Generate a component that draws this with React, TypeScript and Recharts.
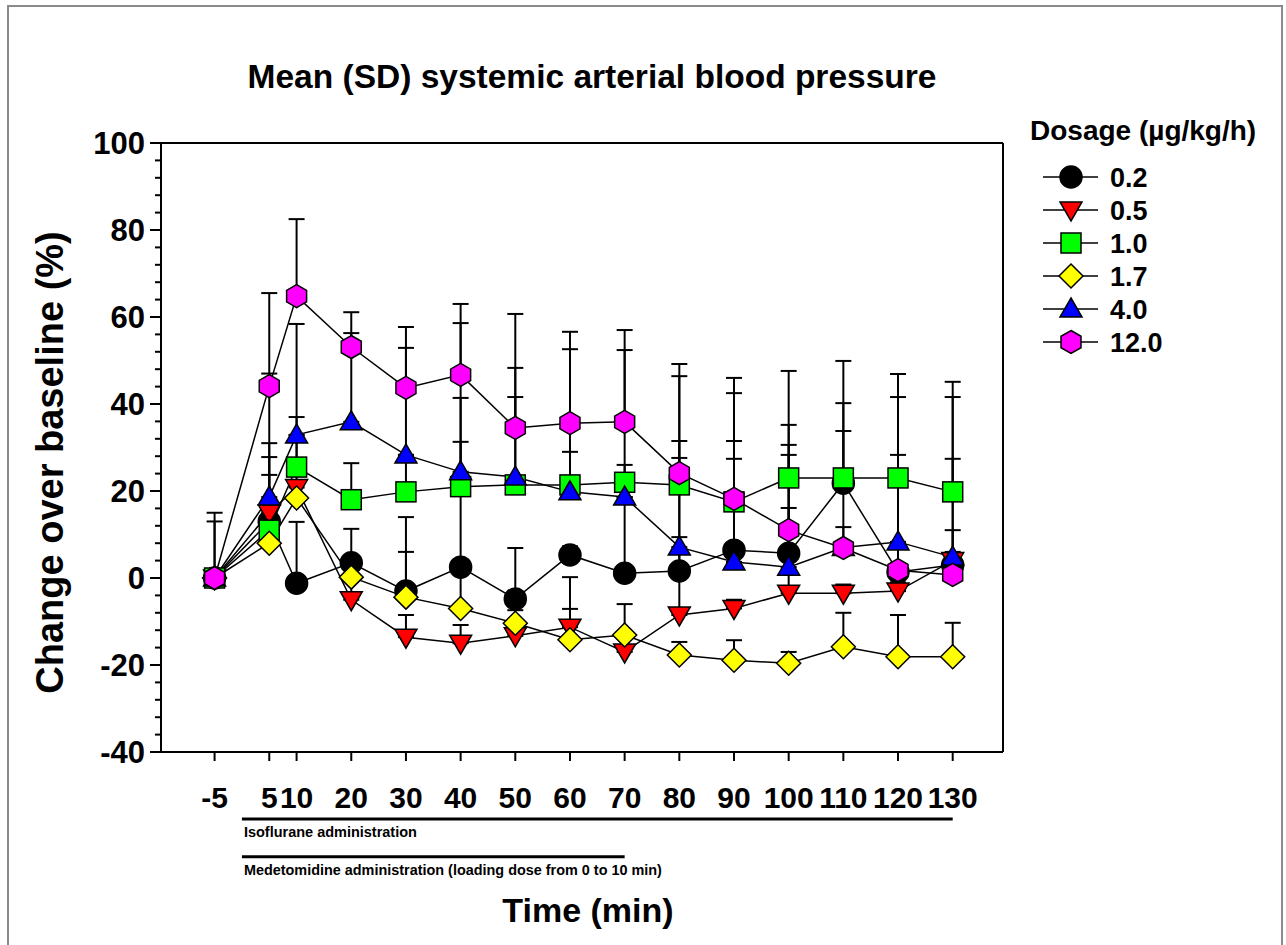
import React from 'react';
import { LineChart, Line, XAxis, YAxis, ErrorBar, ReferenceLine } from 'recharts';

// sampling times (min)
const TIME = [-5, 5, 10, 20, 30, 40, 50, 60, 70, 80, 90, 100, 110, 120, 130];

// y ticks every 4 %, labelled every 20 %
const Y_TICKS = [
  -40, -36, -32, -28, -24, -20, -16, -12, -8, -4, 0, 4, 8, 12, 16, 20, 24, 28, 32, 36, 40,
  44, 48, 52, 56, 60, 64, 68, 72, 76, 80, 84, 88, 92, 96, 100,
];

// mean change over baseline (%) and SD per dosage
const MEAN_02 = [0, 13, -1.2, 3.5, -3, 2.5, -4.8, 5.3, 1.1, 1.6, 6.4, 5.7, 21.8, 1.4, 3];
const SD_02 = [15, 18, 14.1, 7.8, 9, 28.8, 11.7, 2, 17.5, 29.9, 36.1, 29.5, 18.4, 2, 8];

const MEAN_05 = [0, 15, 20.8, -5, -13.6, -15, -13.3, -11.3, -17, -8.5, -7, -3.5, -3.5, -3, 4];
const SD_05 = [0, 12.8, 12, 5, 5.1, 4.2, 3, 4.2, 4, 17.9, 2, 19.6, 2, 2, 2];

const MEAN_10 = [0, 11, 25.5, 18, 19.8, 21, 21.4, 21.4, 22, 21.4, 17.5, 23, 23, 23, 19.8];
const SD_10 = [0, 12.7, 11.5, 8.4, 8.5, 20.4, 20.2, 7.6, 4, 6.2, 14, 24.6, 26.9, 23.9, 25.3];

const MEAN_17 = [0, 8, 18.4, 0.2, -4.4, -7, -10.4, -14.2, -13.1, -17.7, -18.9, -19.6, -15.8, -18.1, -18.1];
const SD_17 = [0, 3, 3, 3, 18.4, 9, 3, 14.4, 7.1, 3, 4.6, 2.6, 7.8, 9.6, 7.8];

const MEAN_40 = [0, 18.6, 32.9, 35.9, 28.3, 24.4, 23.2, 19.8, 18.6, 7.1, 3.7, 2.5, 7, 8.3, 4.8];
const SD_40 = [0, 28.4, 25.5, 20.4, 24.6, 34.2, 25.1, 32.8, 33.8, 39.3, 23.7, 25.8, 4.7, 20, 22.6];

const MEAN_120 = [0, 44.1, 64.8, 53.1, 43.7, 46.7, 34.5, 35.6, 35.9, 24.1, 18.2, 11, 6.9, 1.8, 0.7];
const SD_120 = [13, 21.4, 17.7, 8, 14, 16.3, 26.2, 21, 21.1, 25.1, 27.8, 19.6, 26.9, 39.8, 40.9];

const SERIES = [
  { key: 'd02', name: '0.2', shape: 'circle', fill: '#000000', mean: MEAN_02, sd: SD_02 },
  { key: 'd05', name: '0.5', shape: 'triangleDown', fill: '#ff0000', mean: MEAN_05, sd: SD_05 },
  { key: 'd10', name: '1.0', shape: 'square', fill: '#00ff00', mean: MEAN_10, sd: SD_10 },
  { key: 'd17', name: '1.7', shape: 'diamond', fill: '#ffff00', mean: MEAN_17, sd: SD_17 },
  { key: 'd40', name: '4.0', shape: 'triangleUp', fill: '#0000ff', mean: MEAN_40, sd: SD_40 },
  { key: 'd120', name: '12.0', shape: 'hexagon', fill: '#ff00ff', mean: MEAN_120, sd: SD_120 },
];

// administration periods drawn under the x axis (min)
const PERIODS = [
  { label: 'Isoflurane administration', from: 0, to: 130, level: -55.4, textWidth: 173 },
  { label: 'Medetomidine administration (loading dose from 0 to 10 min)', from: 0, to: 70, level: -64.1, textWidth: 418 },
];

const FONT = "'Liberation Sans', Arial, Helvetica, sans-serif";

const data = TIME.map((t, i) => {
  const row: Record<string, any> = { t };
  SERIES.forEach((s) => {
    row[s.key] = s.mean[i];
    row[s.key + 'Err'] = [0, s.sd[i]];
  });
  return row;
});

function Marker({ shape, cx, cy, fill }: { shape: string; cx: number; cy: number; fill: string }) {
  const st = { fill, stroke: '#000', strokeWidth: 1.5 };
  switch (shape) {
    case 'circle':
      return <circle cx={cx} cy={cy} r={11} {...st} />;
    case 'triangleDown':
      return <polygon points={`${cx - 11},${cy - 8} ${cx + 11},${cy - 8} ${cx},${cy + 11}`} {...st} />;
    case 'square':
      return <rect x={cx - 10} y={cy - 10} width={20} height={20} {...st} />;
    case 'diamond':
      return <polygon points={`${cx},${cy - 12} ${cx + 12},${cy} ${cx},${cy + 12} ${cx - 12},${cy}`} {...st} />;
    case 'triangleUp':
      return <polygon points={`${cx},${cy - 11} ${cx + 11},${cy + 8} ${cx - 11},${cy + 8}`} {...st} />;
    default:
      return (
        <polygon
          points={`${cx},${cy - 11.5} ${cx + 10},${cy - 5.75} ${cx + 10},${cy + 5.75} ${cx},${cy + 11.5} ${cx - 10},${cy + 5.75} ${cx - 10},${cy - 5.75}`}
          {...st}
        />
      );
  }
}

function YTick(props: any) {
  const { x, y, payload } = props;
  const v = payload.value;
  const major = v % 20 === 0;
  return (
    <g>
      <line x1={x} x2={x - (major ? 11 : 6)} y1={y} y2={y} stroke="#000" strokeWidth={2} />
      {major && (
        <text x={x - 16} y={y} dy="0.36em" textAnchor="end" fontFamily={FONT} fontWeight="bold" fontSize={31} fill="#000">
          {v}
        </text>
      )}
    </g>
  );
}

function XTick(props: any) {
  const { x, y, payload } = props;
  return (
    <g>
      <line x1={x} x2={x} y1={y} y2={y + 9} stroke="#000" strokeWidth={2} />
      <text x={x} y={y + 56} textAnchor="middle" fontFamily={FONT} fontWeight="bold" fontSize={30} fill="#000">
        {payload.value}
      </text>
    </g>
  );
}

function Legend() {
  return (
    <svg width={250} height={280} style={{ position: 'absolute', left: 1021, top: 90 }}>
      <text x={0} y={43} fontFamily={FONT} fontWeight="bold" fontSize={28} fill="#000">
        Dosage (µg/kg/h)
      </text>
      {SERIES.map((s, i) => {
        const cy = 80 + i * 33;
        return (
          <g key={s.key}>
            <line x1={13} x2={68} y1={cy} y2={cy} stroke="#000" strokeWidth={1.5} />
            <Marker shape={s.shape} cx={41} cy={cy} fill={s.fill} />
            <text x={80} y={cy} dy="0.36em" fontFamily={FONT} fontWeight="bold" fontSize={27} fill="#000">
              {s.name}
            </text>
          </g>
        );
      })}
    </svg>
  );
}

export default function App() {
  return (
    <div
      style={{
        position: 'absolute',
        left: 7,
        top: 5,
        width: 1276,
        height: 940,
        boxSizing: 'border-box',
        border: '2px solid #8a8a8a',
        borderBottom: 'none',
        background: '#fff',
      }}
    >
      <div
        style={{
          position: 'absolute',
          left: 0,
          top: 53,
          width: 1166,
          textAlign: 'center',
          fontFamily: FONT,
          fontWeight: 'bold',
          fontSize: 33.5,
          lineHeight: '33px',
          color: '#000',
        }}
      >
        Mean (SD) systemic arterial blood pressure
      </div>
      <div style={{ position: 'absolute', left: 0, top: 0 }}>
        <LineChart width={1272} height={935} data={data} margin={{ top: 136, right: 278, bottom: 150, left: 8 }}>
          <XAxis
            dataKey="t"
            type="number"
            domain={[-14.8, 139.2]}
            ticks={TIME}
            interval={0}
            height={40}
            tickSize={0}
            tickMargin={0}
            tickLine={false}
            tick={<XTick />}
            axisLine={{ stroke: '#000', strokeWidth: 2 }}
            label={(p: any) => (
              <text
                x={p.viewBox.x + p.viewBox.width / 2 + 6}
                y={p.viewBox.y + 170}
                textAnchor="middle"
                fontFamily={FONT}
                fontWeight="bold"
                fontSize={34}
                fill="#000"
              >
                Time (min)
              </text>
            )}
          />
          <YAxis
            type="number"
            domain={[-40, 100]}
            ticks={Y_TICKS}
            interval={0}
            width={144}
            tickSize={0}
            tickMargin={0}
            tickLine={false}
            tick={<YTick />}
            axisLine={{ stroke: '#000', strokeWidth: 2 }}
            label={(p: any) => {
              const cx = p.viewBox.x + 46;
              const cy = p.viewBox.y + p.viewBox.height / 2 + 15;
              return (
                <text
                  x={cx}
                  y={cy}
                  transform={`rotate(-90, ${cx}, ${cy})`}
                  textAnchor="middle"
                  fontFamily={FONT}
                  fontWeight="bold"
                  fontSize={38}
                  fill="#000"
                >
                  Change over baseline (%)
                </text>
              );
            }}
          />
          <ReferenceLine y={100} stroke="#000" strokeWidth={2} />
          <ReferenceLine x={139.2} stroke="#000" strokeWidth={2} />
          {PERIODS.map((p) => (
            <ReferenceLine
              key={p.label}
              segment={[
                { x: p.from, y: p.level },
                { x: p.to, y: p.level },
              ]}
              ifOverflow="visible"
              stroke="#000"
              strokeWidth={3}
              label={(lp: any) => (
                <text
                  x={lp.viewBox.x + 2}
                  y={lp.viewBox.y + 18}
                  fontFamily={FONT}
                  fontWeight="bold"
                  fontSize={15}
                  textLength={p.textWidth}
                  lengthAdjust="spacingAndGlyphs"
                  fill="#000"
                >
                  {p.label}
                </text>
              )}
            />
          ))}
          {SERIES.map((s) => (
            <Line
              key={s.key}
              dataKey={s.key}
              name={s.name}
              type="linear"
              stroke="#000"
              strokeWidth={1.5}
              isAnimationActive={false}
              activeDot={false}
              dot={(dp: any) => <Marker key={`${s.key}-${dp.index}`} shape={s.shape} cx={dp.cx} cy={dp.cy} fill={s.fill} />}
            >
              <ErrorBar dataKey={s.key + 'Err'} direction="y" width={8} stroke="#000" strokeWidth={2} />
            </Line>
          ))}
        </LineChart>
      </div>
      <Legend />
    </div>
  );
}
